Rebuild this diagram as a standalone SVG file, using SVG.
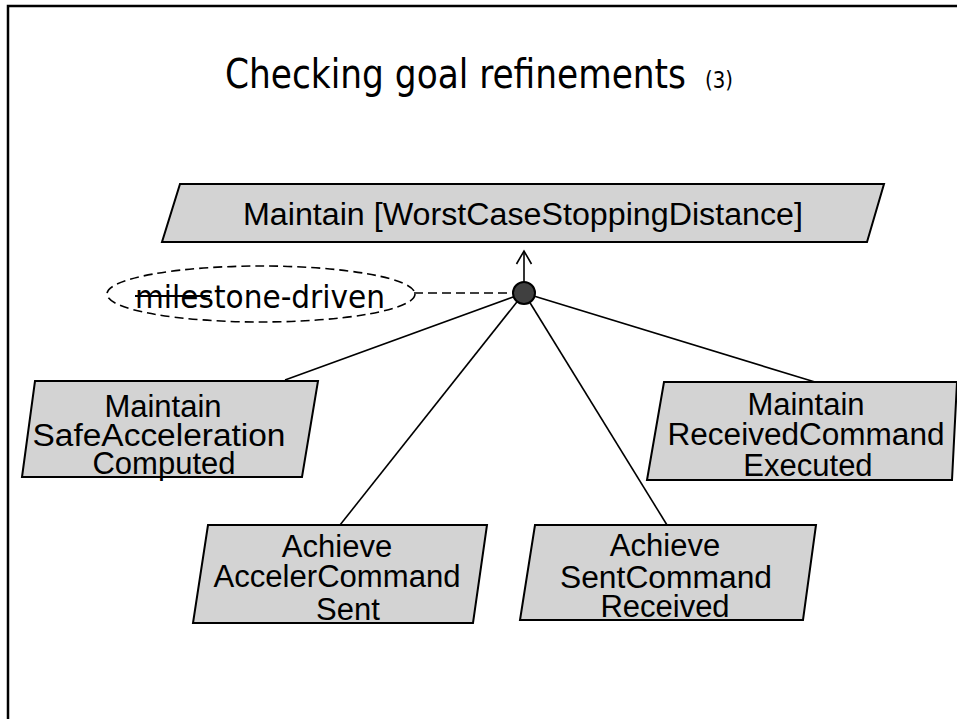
<svg xmlns="http://www.w3.org/2000/svg" width="957" height="719" viewBox="0 0 957 719">
<style>
.goal{fill:#d3d3d3;stroke:#000;stroke-width:2;stroke-linejoin:miter}
.gt{font-family:"Liberation Sans",Arial,sans-serif;font-size:31px;fill:#000;text-anchor:middle}
.narrow{font-family:"Liberation Sans Narrow","DejaVu Sans Condensed","Liberation Sans",sans-serif;fill:#000}
.link{stroke:#000;stroke-width:1.6;fill:none}
.dash{stroke:#000;stroke-width:1.6;fill:none;stroke-dasharray:9,5}
</style>
<rect width="957" height="719" fill="#fff"/>
<g id="frame">
<path d="M8,719 V6 H957" fill="none" stroke="#000" stroke-width="2.5"/>
</g>
<g id="title">
<text class="narrow" x="225" y="88" font-size="40" textLength="461" lengthAdjust="spacingAndGlyphs">Checking goal refinements</text>
<text class="narrow" x="705" y="88" font-size="23" textLength="28" lengthAdjust="spacingAndGlyphs">(3)</text>
</g>
<g id="connectors">
<line class="link" x1="524" y1="282" x2="524" y2="251"/>
<polyline class="link" points="516.5,264 524,251 531.5,264"/>
<line class="dash" x1="414" y1="293" x2="513" y2="293"/>
<line class="link" x1="524" y1="293" x2="285" y2="380"/>
<line class="link" x1="524" y1="293" x2="815" y2="382"/>
<line class="link" x1="524" y1="293" x2="340" y2="525"/>
<line class="link" x1="524" y1="293" x2="667" y2="525"/>
</g>
<g id="n-root">
<polygon class="goal" points="180,184 884,184 867,242 162,242"/>
<text class="gt" x="523" y="225" textLength="560" lengthAdjust="spacingAndGlyphs">Maintain [WorstCaseStoppingDistance]</text>
</g>
<g id="n-and">
<circle cx="524" cy="293" r="11" fill="#404040" stroke="#000" stroke-width="2"/>
</g>
<g id="n-annotation">
<ellipse class="dash" cx="261" cy="294" rx="154" ry="28"/>
<text class="narrow" x="135" y="308" font-size="32" textLength="250" lengthAdjust="spacingAndGlyphs">milestone-driven</text>
<line x1="135" y1="296" x2="210" y2="296" stroke="#000" stroke-width="2"/>
</g>
<g id="n-safeacc">
<polygon class="goal" points="35,381 318,381 302,477 22,477"/>
<text class="gt" x="163" y="417">Maintain</text>
<text class="gt" x="159" y="446" textLength="253" lengthAdjust="spacingAndGlyphs">SafeAcceleration</text>
<text class="gt" x="164" y="474">Computed</text>
</g>
<g id="n-received">
<polygon class="goal" points="664,382 957,382 952,480 647,480"/>
<text class="gt" x="806" y="415">Maintain</text>
<text class="gt" x="806" y="445" textLength="277" lengthAdjust="spacingAndGlyphs">ReceivedCommand</text>
<text class="gt" x="808" y="476">Executed</text>
</g>
<g id="n-sent">
<polygon class="goal" points="208,525 487,525 473,623 193,623"/>
<text class="gt" x="337" y="557">Achieve</text>
<text class="gt" x="337" y="587" textLength="247" lengthAdjust="spacingAndGlyphs">AccelerCommand</text>
<text class="gt" x="348" y="620">Sent</text>
</g>
<g id="n-sentrecv">
<polygon class="goal" points="535,525 816,525 803,620 520,620"/>
<text class="gt" x="665" y="556">Achieve</text>
<text class="gt" x="666" y="588" textLength="212" lengthAdjust="spacingAndGlyphs">SentCommand</text>
<text class="gt" x="665" y="617">Received</text>
</g>
</svg>
